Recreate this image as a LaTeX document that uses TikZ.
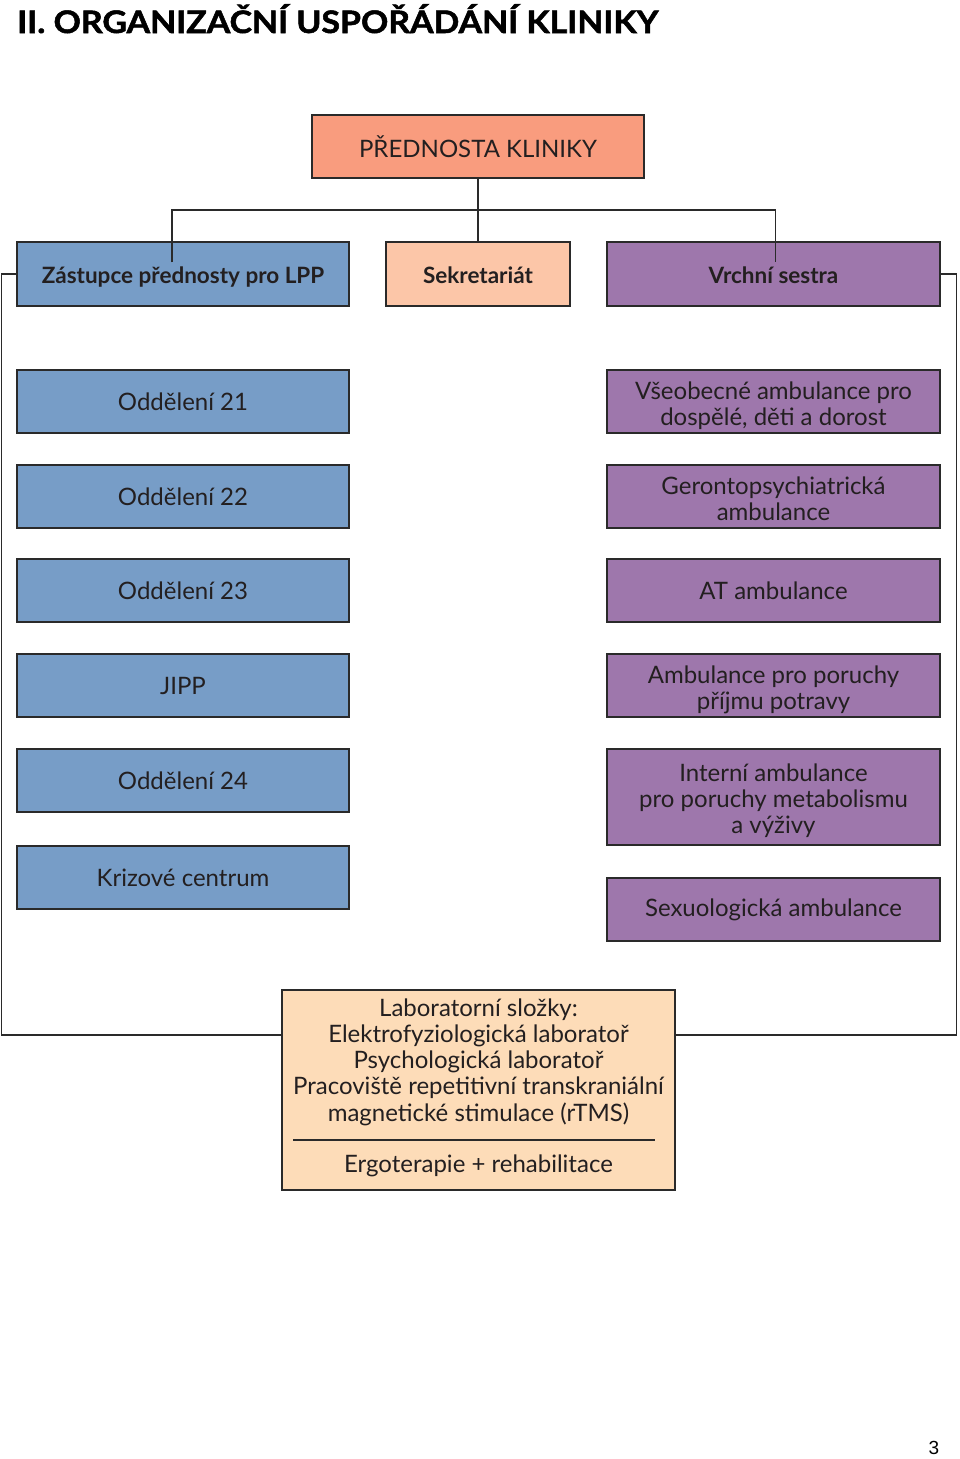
\documentclass[tikz,border=0pt]{standalone}
\usepackage{fontspec}
\setmainfont{Lato}
\newfontfamily\ttlfont[FakeBold=1.6]{Lato}
\newfontfamily\pgfont{Liberation Sans}
\usetikzlibrary{calc}
\definecolor{cHead}{HTML}{F99C7E}
\definecolor{cSek}{HTML}{FCC6A8}
\definecolor{cBlue}{HTML}{779DC7}
\definecolor{cPurp}{HTML}{9E77AC}
\definecolor{cLab}{HTML}{FDDCB8}
\definecolor{cTxt}{HTML}{231F20}
\definecolor{cLine}{HTML}{2A2A2A}
\tikzset{
  orgbox/.style={draw=cLine, line width=1.3pt, inner sep=0pt, align=center, text=cTxt,
    font=\fontsize{24}{26}\selectfont, minimum height=63},
  hdbox/.style={orgbox, font=\bfseries\fontsize{22.5}{26}\selectfont, minimum height=64,
    text height=22, text depth=4},
  bluebox/.style={orgbox, fill=cBlue, minimum width=332},
  purpbox/.style={orgbox, fill=cPurp, minimum width=333},
  conn/.style={draw=cLine, line width=1.2pt}
}
\begin{document}
\begin{tikzpicture}[x=1pt,y=-1pt]
\useasboundingbox (0,0) rectangle (960,1459);
\node[anchor=base west, inner sep=0pt, text=black, font=\ttlfont\bfseries\fontsize{31}{34}\selectfont] (title) at (17,33) {\resizebox{641pt}{\height}{II. ORGANIZAČNÍ USPOŘÁDÁNÍ KLINIKY}};

\node[orgbox, fill=cHead, minimum width=332, font=\fontsize{24}{26}\selectfont] (head) at (478,146.5) {PŘEDNOSTA KLINIKY};

\node[hdbox, fill=cBlue, minimum width=332] (zast) at (183,274) {Zástupce přednosty pro LPP};
\node[hdbox, fill=cSek, minimum width=184] (sek) at (478,274) {Sekretariát};
\node[hdbox, fill=cPurp, minimum width=333] (vrch) at (773.5,274) {Vrchní sestra};

\node[bluebox] (o21) at (183,401.5) {Oddělení 21};
\node[bluebox] (o22) at (183,496.5) {Oddělení 22};
\node[bluebox] (o23) at (183,590.5) {Oddělení 23};
\node[bluebox] (jipp) at (183,685.5) {JIPP};
\node[bluebox] (o24) at (183,780.5) {Oddělení 24};
\node[bluebox] (kriz) at (183,877.5) {Krizové centrum};

\node[purpbox] (vseo) at (773.5,401.5) {\rule{0pt}{26pt}Všeobecné ambulance pro\\dospělé, děti a dorost};
\node[purpbox] (ger) at (773.5,496.5) {\rule{0pt}{23pt}Gerontopsychiatrická\\ambulance};
\node[purpbox] (at) at (773.5,590.5) {AT ambulance};
\node[purpbox] (ppp) at (773.5,685.5) {\rule{0pt}{26pt}Ambulance pro poruchy\\příjmu potravy};
\node[purpbox, minimum height=96] (int) at (773.5,797) {\rule{0pt}{26pt}Interní ambulance\\pro poruchy metabolismu\\a výživy};
\node[purpbox] (sex) at (773.5,909.5) {Sexuologická ambulance};

\node[orgbox, fill=cLab, minimum width=393, minimum height=200] (lab) at (478.5,1090) {};
\node[align=center, text=cTxt, inner sep=0pt, font=\fontsize{24}{26.2}\selectfont] (labtxt) at (478.5,1062) {Laboratorní složky:\\Elektrofyziologická laboratoř\\Psychologická laboratoř\\Pracoviště repetitivní transkraniální\\magnetické stimulace (rTMS)};
\coordinate (sepL) at (293,1140);
\coordinate (sepR) at (655,1140);
\draw[conn] (sepL) -- (sepR);
\node[text=cTxt, inner sep=0pt, font=\fontsize{24}{26}\selectfont] (ergo) at (478.5,1166) {Ergoterapie + rehabilitace};

% connectors
\coordinate (bus) at (478,210);
\coordinate (lj) at (0,1035);
\draw[conn] (head.south) -- (sek.north);
\draw[conn] ([shift={(-11pt,-21pt)}]zast.north) |- (bus) -| ([shift={(2pt,-21pt)}]vrch.north);
\draw[conn] (zast.west) -- ++(-15,0) |- (lab.west |- lj);
\draw[conn] (vrch.east) -- ++(16,0) |- (lab.east |- lj);

\node[font=\pgfont\fontsize{19}{22}\selectfont, text=black] (pg) at (934,1448) {3};
\end{tikzpicture}
\end{document}
